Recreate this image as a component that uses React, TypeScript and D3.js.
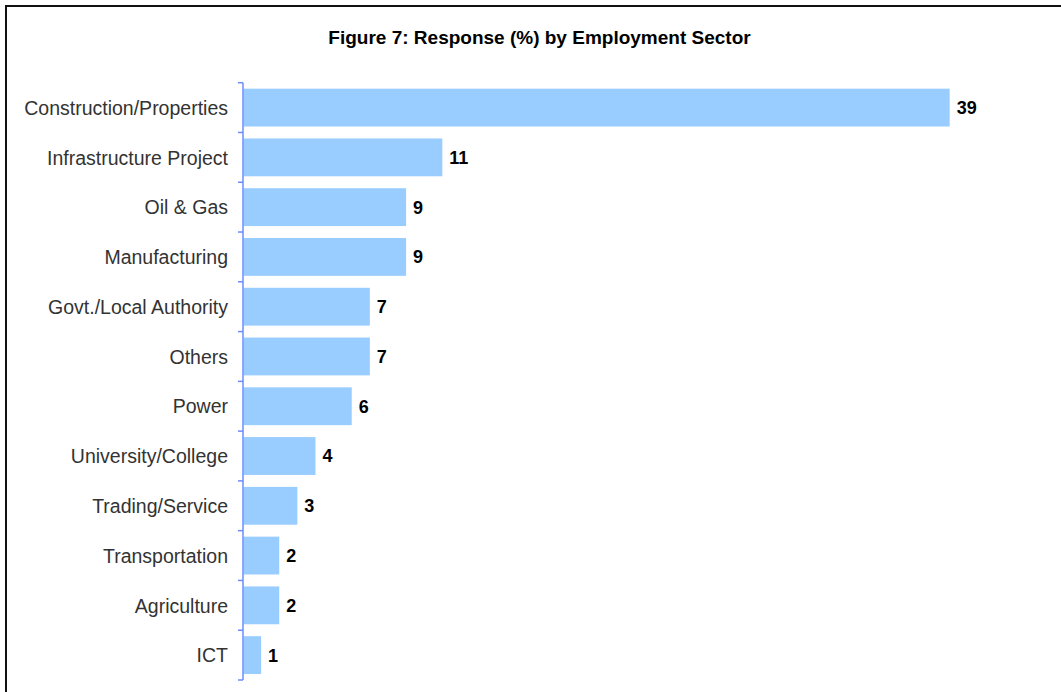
import React from "react";
import * as d3 from "d3";

const categories = [
  "Construction/Properties",
  "Infrastructure Project",
  "Oil & Gas",
  "Manufacturing",
  "Govt./Local Authority",
  "Others",
  "Power",
  "University/College",
  "Trading/Service",
  "Transportation",
  "Agriculture",
  "ICT",
];
const values = [39, 11, 9, 9, 7, 7, 6, 4, 3, 2, 2, 1];
const title = "Figure 7: Response (%) by Employment Sector";

const W = 1061;
const H = 692;
const axisX = 243;
const top = 82.7;
const bottom = 680;

export default function App() {
  const x = d3.scaleLinear().domain([0, 40]).range([axisX, axisX + 724.8]);
  const y = d3.scaleBand().domain(categories).range([top, bottom]).paddingInner(0.24).paddingOuter(0.12);
  const bandStep = (bottom - top) / categories.length;
  const tickYs = d3.range(categories.length + 1).map((i) => top + i * bandStep);
  const font = "'Liberation Sans', Arial, sans-serif";
  return (
    <svg width={W} height={H} style={{ position: "absolute", left: 0, top: 0, background: "#fff" }}>
      <rect x={0} y={0} width={W} height={H} fill="#fff" />
      <line x1={6} y1={6} x2={W} y2={6} stroke="#111" strokeWidth={2} />
      <line x1={6} y1={5} x2={6} y2={H} stroke="#111" strokeWidth={2} />
      <text x={539.5} y={44} textAnchor="middle" fontFamily={font} fontWeight="bold" fontSize={19} fill="#000">
        {title}
      </text>
      {categories.map((c, i) => (
        <g key={c}>
          <rect x={x(0) + 0.5} y={y(c)!} width={x(values[i]) - x(0) - 0.5} height={y.bandwidth()} fill="#99ccff" />
          <text x={x(values[i]) + 7} y={y(c)! + y.bandwidth() / 2} dy="0.36em" fontFamily={font} fontWeight="bold" fontSize={18} fill="#000">
            {values[i]}
          </text>
          <text x={228} y={y(c)! + y.bandwidth() / 2} dy="0.37em" textAnchor="end" fontFamily={font} fontSize={19.5} fill="#333">
            {c}
          </text>
        </g>
      ))}
      <line x1={axisX} y1={top} x2={axisX} y2={bottom} stroke="#6b8cff" strokeWidth={1.5} />
      {tickYs.map((t, i) => (
        <line key={i} x1={axisX - 5} y1={t} x2={axisX} y2={t} stroke="#6b8cff" strokeWidth={1.5} />
      ))}
    </svg>
  );
}
